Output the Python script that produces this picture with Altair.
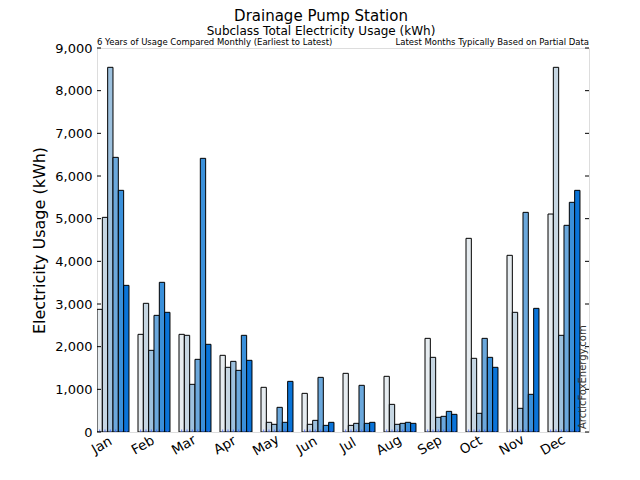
import altair as alt
import pandas as pd

months = ["Jan", "Feb", "Mar", "Apr", "May", "Jun", "Jul", "Aug", "Sep", "Oct", "Nov", "Dec"]
years = ["Year 1", "Year 2", "Year 3", "Year 4", "Year 5", "Year 6"]
year1 = [2875, 2289, 2289, 1797, 1047, 906, 1375, 1305, 2195, 4539, 4141, 5109]
year2 = [5031, 3016, 2266, 1516, 227, 180, 156, 648, 1750, 1727, 2805, 8547]
year3 = [8547, 1914, 1117, 1656, 180, 273, 203, 180, 344, 438, 555, 2266]
year4 = [6437, 2734, 1703, 1445, 578, 1281, 1094, 203, 367, 2195, 5148, 4844]
year5 = [5664, 3508, 6414, 2266, 227, 156, 203, 227, 484, 1750, 883, 5383]
year6 = [3437, 2805, 2055, 1680, 1187, 227, 227, 203, 414, 1516, 2898, 5664]
colors = ["#e6ecf0", "#c6d6e2", "#9dc1de", "#6ba8dc", "#3a90da", "#0a74d8"]
yticks = [0, 1000, 2000, 3000, 4000, 5000, 6000, 7000, 8000, 9000]

series = [year1, year2, year3, year4, year5, year6]
rows = []
for y, vals in zip(years, series):
    for m, v in zip(months, vals):
        rows.append({"month": m, "year": y, "usage": v})
df = pd.DataFrame(rows)
tick_df = pd.DataFrame({"v": yticks})

W, H = 492, 384
FONT = "DejaVu Sans"

xscale = alt.Scale(domain=months, paddingInner=0.22, paddingOuter=0.11, align=0)
yscale = alt.Scale(domain=[0, 9000], nice=False)
offscale = alt.Scale(paddingInner=0, paddingOuter=0)

bars = alt.Chart(df).mark_bar(stroke="black", strokeWidth=1, clip=True).encode(
    x=alt.X("month:N", sort=months, scale=xscale,
            axis=alt.Axis(title=None, labelAngle=330, labelAlign="center",
                          labelBaseline="middle", labelPadding=13, labelOffset=-11,
                          ticks=False, domain=False, labelFontSize=13.5,
                          labelFont=FONT, labelColor="black")),
    xOffset=alt.XOffset("year:N", sort=years, scale=offscale),
    y=alt.Y("usage:Q", scale=yscale,
            axis=alt.Axis(title="Electricity Usage (kWh)", values=yticks, format=",d",
                          ticks=False, domain=False, grid=False, labelPadding=5,
                          labelFontSize=13, labelFont=FONT, labelColor="black",
                          titleFontSize=16, titleFont=FONT, titleFontWeight="normal",
                          titleColor="black", titlePadding=7)),
    color=alt.Color("year:N", sort=years, scale=alt.Scale(domain=years, range=colors), legend=None),
)

marks = alt.Chart(df).mark_tick(orient="vertical", size=5, thickness=1, color="#3355ff", clip=True).encode(
    x=alt.X("month:N", sort=months, scale=xscale),
    xOffset=alt.XOffset("year:N", sort=years, scale=offscale),
    y=alt.datum(0, scale=yscale),
)

left_ticks = alt.Chart(tick_df).mark_rule(color="black", strokeWidth=1).encode(
    x=alt.value(0), x2=alt.value(4), y=alt.Y("v:Q", scale=yscale))
right_ticks = alt.Chart(tick_df).mark_rule(color="black", strokeWidth=1).encode(
    x=alt.value(W - 4), x2=alt.value(W), y=alt.Y("v:Q", scale=yscale))

note_left = alt.Chart(pd.DataFrame({"t": ["6 Years of Usage Compared Monthly (Earliest to Latest)"]})).mark_text(
    align="left", baseline="bottom", fontSize=8.5, font=FONT, color="black", dy=-1
).encode(x=alt.value(0), y=alt.value(0), text="t:N")
note_right = alt.Chart(pd.DataFrame({"t": ["Latest Months Typically Based on Partial Data"]})).mark_text(
    align="right", baseline="bottom", fontSize=8.5, font=FONT, color="black", dy=-1
).encode(x=alt.value(W), y=alt.value(0), text="t:N")
watermark = alt.Chart(pd.DataFrame({"t": ["ArcticFoxEnergy.com"]})).mark_text(
    align="left", baseline="middle", fontSize=10, font=FONT, color="#333333", angle=270
).encode(x=alt.value(W - 6), y=alt.value(H - 3), text="t:N")

chart = alt.layer(bars, marks, left_ticks, right_ticks, note_left, note_right, watermark).properties(
    width=W, height=H,
    title=alt.TitleParams(
        text="Drainage Pump Station",
        subtitle="Subclass Total Electricity Usage (kWh)",
        fontSize=15, subtitleFontSize=12, font=FONT, subtitleFont=FONT,
        fontWeight="normal", color="black", subtitleColor="black",
        anchor="middle", dx=-22, offset=1, subtitlePadding=2,
    ),
    autosize=alt.AutoSizeParams(type="none"),
    padding={"left": 89, "top": 40, "right": 43, "bottom": 40},
).configure_view(stroke="black", strokeWidth=1).configure(background="white")

chart.save("out.html", embed_options={"renderer": "svg", "actions": False})
